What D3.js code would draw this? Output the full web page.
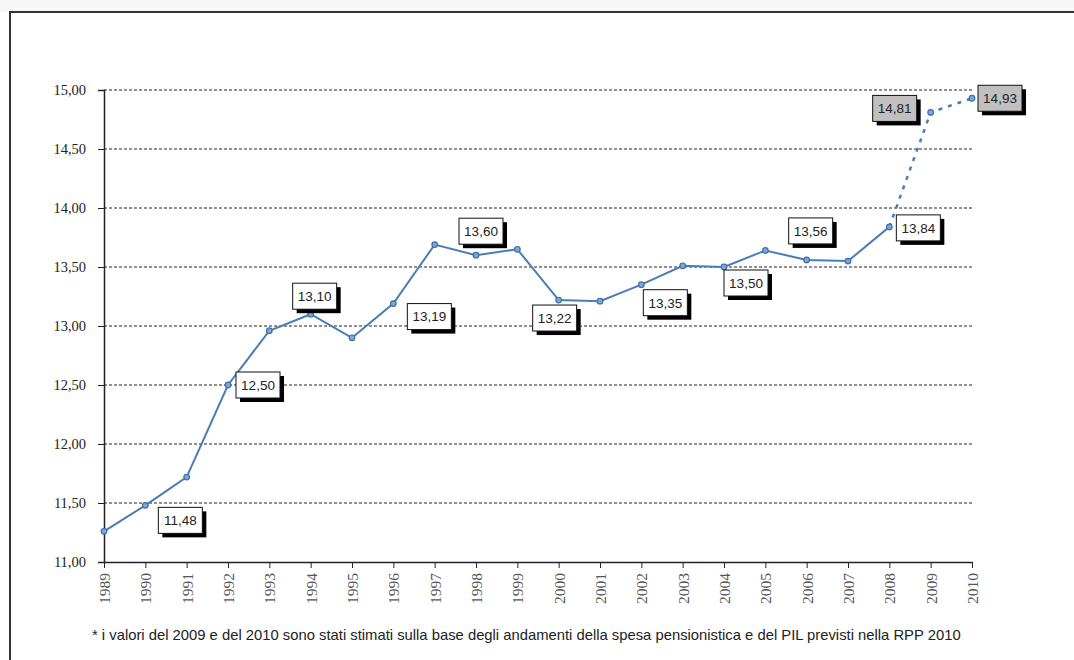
<!DOCTYPE html>
<html>
<head>
<meta charset="utf-8">
<script src="https://cdn.jsdelivr.net/npm/d3@7"></script>
<style>
  html, body { margin: 0; padding: 0; background: #fff; }
  svg { display: block; }
</style>
</head>
<body>
<svg id="chart" width="1074" height="660"></svg>
<script>
// Spesa pensionistica in rapporto al PIL (%), 1989-2010
const years = [1989, 1990, 1991, 1992, 1993, 1994, 1995, 1996, 1997, 1998, 1999,
               2000, 2001, 2002, 2003, 2004, 2005, 2006, 2007, 2008, 2009, 2010];
const values = [11.26, 11.48, 11.72, 12.50, 12.96, 13.10, 12.90, 13.19, 13.69, 13.60, 13.65,
                13.22, 13.21, 13.35, 13.51, 13.50, 13.64, 13.56, 13.55, 13.84, 14.81, 14.93];
// years whose values are estimates (drawn dotted, grey labels)
const estimatedYears = [2009, 2010];
// years that carry a value label
const labelledYears = [1990, 1992, 1994, 1996, 1998, 2000, 2002, 2004, 2006, 2008, 2009, 2010];
const yTicks = [11.0, 11.5, 12.0, 12.5, 13.0, 13.5, 14.0, 14.5, 15.0];
const footnote = "* i valori del 2009 e del 2010 sono stati stimati sulla base degli andamenti della spesa pensionistica e del PIL previsti nella RPP 2010";

// label box offsets from the point (layout only)
const labelOffsets = {
  1990: [35, 15], 1992: [30, 0], 1994: [4, -18], 1996: [36, 13], 1998: [5, -24],
  2000: [-4, 18], 2002: [24, 18], 2004: [22, 16], 2006: [4, -29], 2008: [29, 1],
  2009: [-36, -4], 2010: [28, 0]
};

const fmt = v => d3.format(".2f")(v).replace(".", ",");
const data = years.map((y, i) => ({ year: y, value: values[i] }));

const svg = d3.select("#chart");

// page frame
svg.append("rect").attr("x", 0).attr("y", 0).attr("width", 1074).attr("height", 12).attr("fill", "#f7f7f7");
svg.append("path").attr("d", "M10,660 V12 H1074").attr("fill", "none")
  .attr("stroke", "#333").attr("stroke-width", 2);

const x = d3.scalePoint().domain(years).range([104, 972]);
const y = d3.scaleLinear().domain([11, 15]).range([562, 90]);

// horizontal dashed gridlines
svg.append("g").selectAll("line").data(yTicks.filter(t => t > 11)).join("line")
  .attr("x1", 104).attr("x2", 972)
  .attr("y1", d => y(d)).attr("y2", d => y(d))
  .attr("stroke", "#222").attr("stroke-width", 1).attr("stroke-dasharray", "3,2");

// y axis
const yAxis = svg.append("g").attr("transform", "translate(104,0)")
  .call(d3.axisLeft(y).tickValues(yTicks).tickFormat(fmt).tickSize(6).tickPadding(12));
yAxis.select(".domain").attr("stroke", "#222").attr("stroke-width", 1.5);
yAxis.selectAll(".tick line").attr("stroke", "#222");
yAxis.selectAll("text").attr("font-family", "'Liberation Serif', 'DejaVu Serif', serif")
  .attr("font-size", 14.5).attr("fill", "#222");

// x axis
const xAxis = svg.append("g").attr("transform", "translate(0,562)")
  .call(d3.axisBottom(x).tickSize(6).tickSizeOuter(0));
xAxis.select(".domain").attr("stroke", "#222").attr("stroke-width", 1.5);
xAxis.selectAll(".tick line").attr("stroke", "#222");
xAxis.selectAll("text")
  .attr("font-family", "'Liberation Serif', 'DejaVu Serif', serif")
  .attr("font-size", 15.5).attr("fill", "#555")
  .attr("transform", "rotate(-90)")
  .attr("text-anchor", "end")
  .attr("x", -11).attr("y", 0).attr("dy", "0.35em");

// series line: observed part solid, estimated part dotted
const line = d3.line().x(d => x(d.year)).y(d => y(d.value));
const firstEst = d3.min(estimatedYears);
const observed = data.filter(d => d.year < firstEst);
const estimated = data.filter(d => d.year >= firstEst - 1);

svg.append("path").datum(observed).attr("d", line)
  .attr("fill", "none").attr("stroke", "#4a7db5").attr("stroke-width", 2);
svg.append("path").datum(estimated).attr("d", line)
  .attr("fill", "none").attr("stroke", "#4a7db5").attr("stroke-width", 2.5)
  .attr("stroke-dasharray", "4,6");

// markers
svg.append("g").selectAll("circle").data(data).join("circle")
  .attr("cx", d => x(d.year)).attr("cy", d => y(d.value)).attr("r", 2.8)
  .attr("fill", "#7fa7d3").attr("stroke", "#3e6fa8").attr("stroke-width", 1.2);

// value labels with drop shadow
const bw = 44, bh = 26;
const labels = svg.append("g").selectAll("g")
  .data(data.filter(d => labelledYears.includes(d.year))).join("g")
  .attr("transform", d => {
    const o = labelOffsets[d.year];
    return `translate(${x(d.year) + o[0]},${y(d.value) + o[1]})`;
  });
labels.append("rect")
  .attr("x", -bw / 2 + 4).attr("y", -bh / 2 + 4).attr("width", bw).attr("height", bh)
  .attr("fill", "#000");
labels.append("rect")
  .attr("x", -bw / 2).attr("y", -bh / 2).attr("width", bw).attr("height", bh)
  .attr("fill", d => estimatedYears.includes(d.year) ? "#c0c0c0" : "#fff")
  .attr("stroke", "#111").attr("stroke-width", 1);
labels.append("text")
  .attr("text-anchor", "middle").attr("dy", "0.36em")
  .attr("font-family", "'Liberation Sans', Arial, sans-serif").attr("font-size", 13.5)
  .attr("fill", "#222")
  .text(d => fmt(d.value));

// footnote
svg.append("text").attr("x", 92).attr("y", 640)
  .attr("font-family", "'Liberation Sans', Arial, sans-serif").attr("font-size", 14.8)
  .attr("fill", "#222").text(footnote);
</script>
</body>
</html>
